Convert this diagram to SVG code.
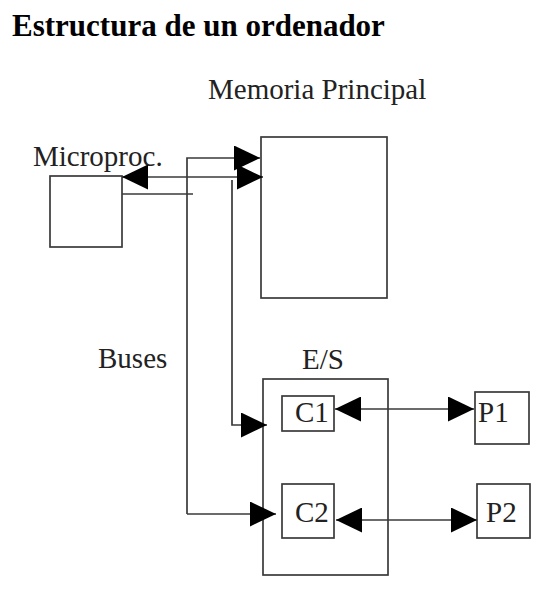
<svg xmlns="http://www.w3.org/2000/svg" width="549" height="604" viewBox="0 0 549 604">
  <style>
    .box { fill: none; stroke: #3a3a3a; stroke-width: 1.7; }
    .wire { fill: none; stroke: #3a3a3a; stroke-width: 1.7; }
    .lbl { font-family: "Liberation Serif", "Times New Roman", serif; font-size: 29px; fill: #222; }
    .title { font-family: "Liberation Serif", "Times New Roman", serif; font-size: 31px; font-weight: bold; fill: #000; }
  </style>
  <defs>
    <marker id="ah" viewBox="0 0 26 25" refX="26" refY="12.5" markerWidth="26" markerHeight="25" markerUnits="userSpaceOnUse" orient="auto-start-reverse">
      <path d="M0,0 L26,12.5 L0,25 z" fill="#000"/>
    </marker>
  </defs>
  <rect width="549" height="604" fill="#fff"/>
  <g id="title">
    <text class="title" x="12" y="36">Estructura de un ordenador</text>
  </g>
  <g id="microproc">
    <text class="lbl" x="33" y="166">Microproc.</text>
    <rect class="box" x="50" y="176" width="72" height="71"/>
  </g>
  <g id="memoria">
    <text class="lbl" x="208" y="99">Memoria Principal</text>
    <rect class="box" x="261" y="137" width="126" height="161"/>
  </g>
  <g id="es">
    <text class="lbl" x="302" y="369">E/S</text>
    <rect class="box" x="263" y="379" width="125" height="196"/>
  </g>
  <g id="c1">
    <rect class="box" x="282" y="396" width="52" height="35"/>
    <text class="lbl" x="295" y="422">C1</text>
  </g>
  <g id="c2">
    <rect class="box" x="282" y="484" width="52" height="54"/>
    <text class="lbl" x="295" y="522">C2</text>
  </g>
  <g id="p1">
    <rect class="box" x="475" y="392" width="54" height="52"/>
    <text class="lbl" x="478" y="422">P1</text>
  </g>
  <g id="p2">
    <rect class="box" x="477" y="484" width="53" height="54"/>
    <text class="lbl" x="486" y="522">P2</text>
  </g>
  <g id="buses">
    <text class="lbl" x="98" y="368">Buses</text>
  </g>
  <g id="connectors">
    <path class="wire" d="M187,514 V158 H260" marker-end="url(#ah)"/>
    <path class="wire" d="M187,514 H276" marker-end="url(#ah)"/>
    <path class="wire" d="M122,177 H263" marker-start="url(#ah)" marker-end="url(#ah)"/>
    <path class="wire" d="M122,194 H193"/>
    <path class="wire" d="M232,180 V425 H267" marker-end="url(#ah)"/>
    <path class="wire" d="M335,409 H474" marker-start="url(#ah)" marker-end="url(#ah)"/>
    <path class="wire" d="M336,520 H477" marker-start="url(#ah)" marker-end="url(#ah)"/>
  </g>
</svg>
